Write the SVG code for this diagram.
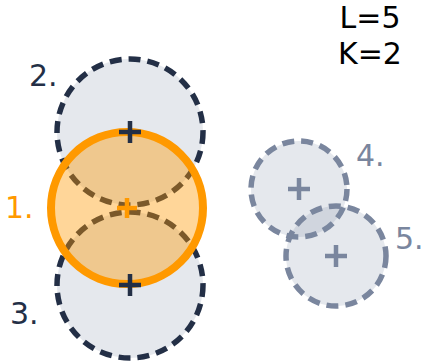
<svg xmlns="http://www.w3.org/2000/svg" width="424" height="363" viewBox="0 0 424 363">
<style>
.dark{fill:#7f8aa3;fill-opacity:0.2;stroke:#232f46;stroke-width:5.5;stroke-dasharray:12 7}
.light{fill:#7f8aa3;fill-opacity:0.2;stroke:#7a869e;stroke-width:5.5;stroke-dasharray:12 7}
.sel{fill:#ff9900;fill-opacity:0.4;stroke:#ff9900;stroke-width:8}
.lbl{font-family:"DejaVu Sans",sans-serif;font-size:30px}
.xd{stroke:#232f46;stroke-width:4.5;fill:none}
.xl{stroke:#7a869e;stroke-width:4.5;fill:none}
.xo{stroke:#ff9900;stroke-width:4.5;fill:none}
</style>
<rect width="424" height="363" fill="#ffffff"/>
<g id="connectors"/>
<g id="node2">
<circle class="dark" cx="130" cy="132" r="73"/>
<text class="lbl" x="29" y="86" fill="#232f46">2.</text>
</g>
<g id="node3">
<circle class="dark" cx="130" cy="285" r="73"/>
<text class="lbl" x="10" y="324" fill="#232f46">3.</text>
</g>
<g id="node4">
<circle class="light" cx="299" cy="189" r="48"/>
<path class="xl" d="M288 189h22M299 178v22"/>
<text class="lbl" x="356" y="166" fill="#7a869e">4.</text>
</g>
<g id="node5">
<circle class="light" cx="336" cy="256" r="50"/>
<path class="xl" d="M325 256h22M336 245v22"/>
<text class="lbl" x="395" y="249" fill="#7a869e">5.</text>
</g>
<g id="node1">
<circle class="sel" cx="127" cy="208" r="76"/>
<path class="xo" d="M117 208h20M127 198v20"/>
<text class="lbl" x="5" y="218" fill="#ff9900">1.</text>
</g>
<g id="centers">
<path class="xd" d="M119 132h22M130 121v22"/>
<path class="xd" d="M119 285h22M130 274v22"/>
</g>
<g id="params">
<text class="lbl" x="370" y="28" text-anchor="middle" fill="#000000">L=5</text>
<text class="lbl" x="370" y="64" text-anchor="middle" fill="#000000">K=2</text>
</g>
</svg>
